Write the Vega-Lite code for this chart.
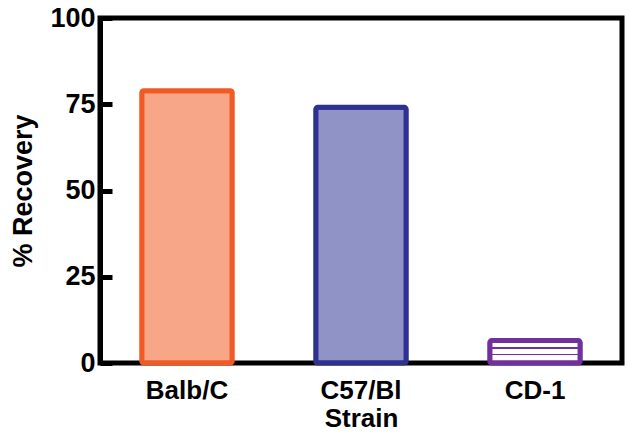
{
  "$schema": "https://vega.github.io/schema/vega-lite/v6.json",
  "autosize": {"type": "none"},
  "padding": {"left": 100, "top": 18, "right": 8, "bottom": 70},
  "width": 522,
  "height": 345,
  "background": "white",
  "config": {
    "view": {"stroke": "black", "strokeWidth": 5},
    "font": "Liberation Sans"
  },
  "data": {
    "values": [
      {"Strain": "Balb/C", "Recovery": 78.9},
      {"Strain": "C57/Bl", "Recovery": 74.1},
      {"Strain": "CD-1", "Recovery": 6.5}
    ]
  },
  "encoding": {
    "x": {
      "field": "Strain", "type": "nominal", "sort": null,
      "scale": {"paddingInner": 0.48, "paddingOuter": 0.24},
      "axis": {
        "title": "Strain", "titleFont": "Liberation Sans", "titleFontSize": 26, "titleFontWeight": "bold",
        "titleColor": "black", "titlePadding": 2,
        "labelAngle": 0, "labelFontSize": 26, "labelFontWeight": "bold", "labelColor": "black",
        "labelPadding": 14, "ticks": false, "domain": false
      }
    },
    "y": {
      "field": "Recovery", "type": "quantitative",
      "scale": {"domain": [0, 100], "nice": false},
      "axis": {
        "title": "% Recovery", "titleFontSize": 27, "titleFontWeight": "bold", "titleColor": "black",
        "titlePadding": 12,
        "values": [0, 25, 50, 75, 100],
        "labelFontSize": 27, "labelFontWeight": "bold", "labelColor": "black",
        "tickSize": -12, "tickWidth": 5, "tickColor": "black", "labelPadding": 17,
        "domainWidth": 5, "domainColor": "black", "grid": false
      }
    }
  },
  "layer": [
    {
      "transform": [{"filter": "datum.Strain !== 'CD-1'"}],
      "mark": {"type": "bar", "strokeWidth": 5, "cornerRadius": 2},
      "encoding": {
        "fill": {"field": "Strain", "type": "nominal", "legend": null,
          "scale": {"domain": ["Balb/C", "C57/Bl"], "range": ["#F8A688", "#9093C6"]}},
        "stroke": {"field": "Strain", "type": "nominal", "legend": null,
          "scale": {"domain": ["Balb/C", "C57/Bl"], "range": ["#F15A24", "#2E3192"]}}
      }
    },
    {
      "transform": [{"filter": "datum.Strain === 'CD-1'"}],
      "mark": {
        "type": "bar", "strokeWidth": 5, "cornerRadius": 2, "stroke": "#7030A0",
        "fill": {
          "gradient": "linear", "x1": 0, "y1": 0, "x2": 0, "y2": 1,
          "stops": [
            {"offset": 0, "color": "#ffffff"},
            {"offset": 0.3, "color": "#ffffff"},
            {"offset": 0.3, "color": "#7030A0"},
            {"offset": 0.38, "color": "#7030A0"},
            {"offset": 0.38, "color": "#ffffff"},
            {"offset": 0.58, "color": "#ffffff"},
            {"offset": 0.58, "color": "#7030A0"},
            {"offset": 0.66, "color": "#7030A0"},
            {"offset": 0.66, "color": "#ffffff"},
            {"offset": 1, "color": "#ffffff"}
          ]
        }
      }
    }
  ]
}
